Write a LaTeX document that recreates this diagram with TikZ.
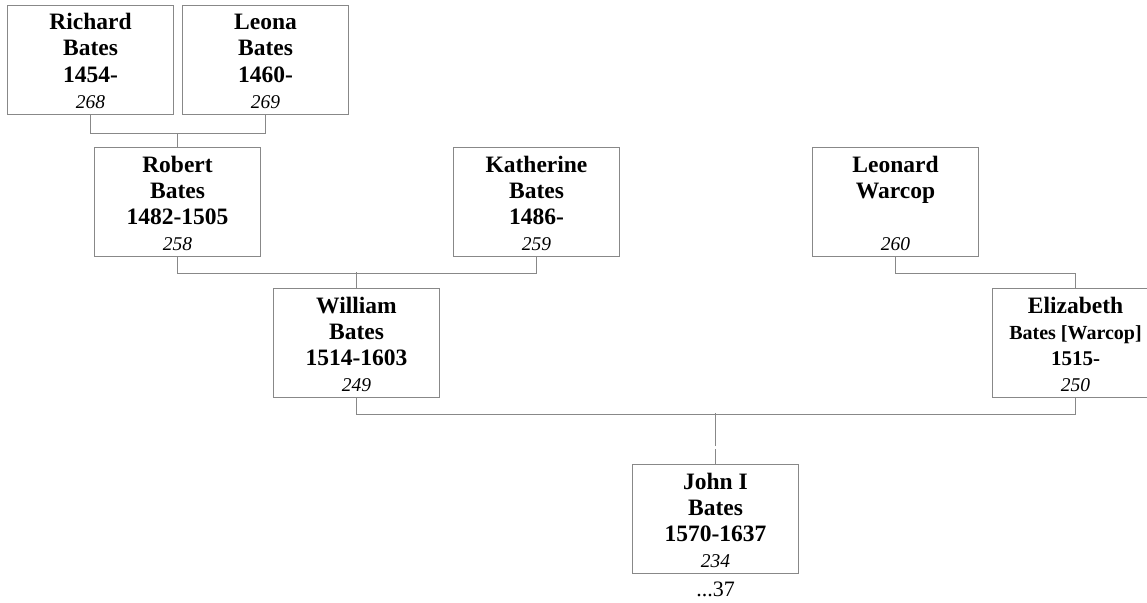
\documentclass[tikz,border=0pt]{standalone}
\usepackage{fontspec}
\setmainfont{Liberation Serif}
\definecolor{edge}{RGB}{136,136,136}
\tikzset{
  pbox/.style={draw=edge, line width=1pt, rectangle, minimum width=166pt, minimum height=109pt, inner sep=0pt, anchor=north west},
  nm/.style={anchor=base, font=\fontsize{23.5}{26}\selectfont\bfseries, inner sep=0pt},
  num/.style={anchor=base, font=\fontsize{19.5}{22}\selectfont\itshape, inner sep=0pt},
  conn/.style={draw=edge, line width=1pt}
}
\newcommand\personbox[7]{%
  \node[pbox] (#1) at (#2,#3) {};
  \node[nm] (#1-a) at ([yshift=-25pt]#1.north) {#4};
  \node[nm] (#1-b) at ([yshift=-51pt]#1.north) {#5};
  \node[nm] (#1-c) at ([yshift=-77pt]#1.north) {#6};
  \node[num] (#1-d) at ([yshift=-103pt]#1.north) {#7};
}
\begin{document}
\begin{tikzpicture}[x=1pt,y=-1pt]
\useasboundingbox (0,0) rectangle (1147,602);
\personbox{richard}{7}{5}{Richard}{Bates}{1454-}{268}
\personbox{leona}{182}{5}{Leona}{Bates}{1460-}{269}
\personbox{robert}{94}{147}{Robert}{Bates}{1482-1505}{258}
\personbox{katherine}{453}{147}{Katherine}{Bates}{1486-}{259}
\personbox{leonard}{812}{147}{Leonard}{Warcop}{}{260}
\personbox{william}{273}{288}{William}{Bates}{1514-1603}{249}
\personbox{elizabeth}{992}{288}{Elizabeth}{\fontsize{20}{22}\selectfont Bates [Warcop]}{\fontsize{21}{23}\selectfont 1515-}{250}
\personbox{john}{632}{464}{John I}{Bates}{1570-1637}{234}
\node[anchor=base, inner sep=0pt, font=\fontsize{22}{24}\selectfont] (john-more) at ([yshift=-22pt]john.south) {...37};
\draw[conn] (richard.south) -- ++(0,18) -| (leona.south);
\draw[conn] (robert.north) -- ++(0,-14);
\draw[conn] (robert.south) -- ++(0,16) -| (katherine.south);
\draw[conn] (william.north) -- ++(0,-16);
\draw[conn] (leonard.south) -- ++(0,16) -| (elizabeth.north);
\draw[conn] (william.south) -- ++(0,16) -| (elizabeth.south);
\draw[conn] (john.north) -- ++(0,-15);
\draw[conn] ([yshift=18pt]john.north) -- ++(0,-33);
\end{tikzpicture}
\end{document}
